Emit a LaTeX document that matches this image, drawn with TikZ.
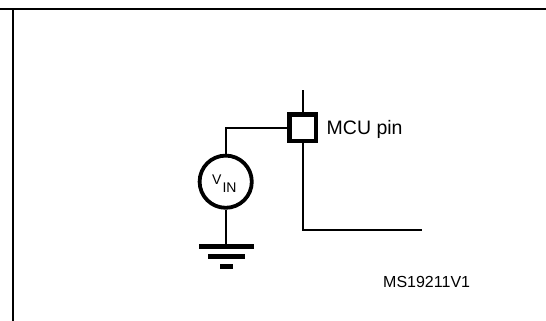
\documentclass[tikz,border=0pt]{standalone}
\usepackage{fontspec}
\setmainfont{Liberation Sans}
\begin{document}
\begin{tikzpicture}[x=1pt,y=-1pt,
  wire/.style={line width=2pt},
  frame/.style={line width=2pt},
  pinbox/.style={draw,line width=4.2pt,minimum size=26.2pt,inner sep=0pt},
  src/.style={draw,circle,line width=3.8pt,minimum size=52.2pt,inner sep=0pt},
  gbar/.style={line width=5pt},
  lbl/.style={inner sep=0pt,anchor=base west}]
\useasboundingbox (0,0) rectangle (546,321);
% frame
\coordinate (fl) at (0,9);
\coordinate (fr) at (546,9);
\coordinate (ft) at (12.7,9);
\coordinate (fb) at (12.7,321);
\draw[frame] (fl) -- (fr);
\draw[frame] (ft) -- (fb);
% nodes
\node[pinbox] (pin) at (302.5,127.5) {};
\node[src] (vin) at (225.7,181.7) {};
\coordinate (ptop) at (302.5,90);
\coordinate (corner) at (225.7,127.5);
\coordinate (gnd) at (225.7,246);
\coordinate (bend) at (302.5,229.7);
\coordinate (pend) at (421.7,229.7);
\draw[wire] (ptop) -- (pin.north);
\draw[wire] (pin.west) -- (corner) -- (vin.north);
\draw[wire] (vin.south) -- (gnd);
\draw[wire] (pin.south) -- (bend) -- (pend);
% ground
\draw[gbar] (199,246) -- (254,246);
\draw[gbar] (208,256) -- (245,256);
\draw[gbar] (220,266.8) -- (233,266.8);
% labels
\node[lbl,font=\fontsize{19.5}{19.5}\selectfont] (mcu) at (326.5,134.3) {MCU pin};
\node[lbl,font=\fontsize{14}{14}\selectfont] (vv) at (211.8,184) {V};
\node[lbl,font=\fontsize{14}{14}\selectfont] (vi) at (222.3,192) {IN};
\node[lbl,font=\fontsize{16}{16}\selectfont] (ms) at (383,287.5) {MS19211V1};
\end{tikzpicture}
\end{document}
